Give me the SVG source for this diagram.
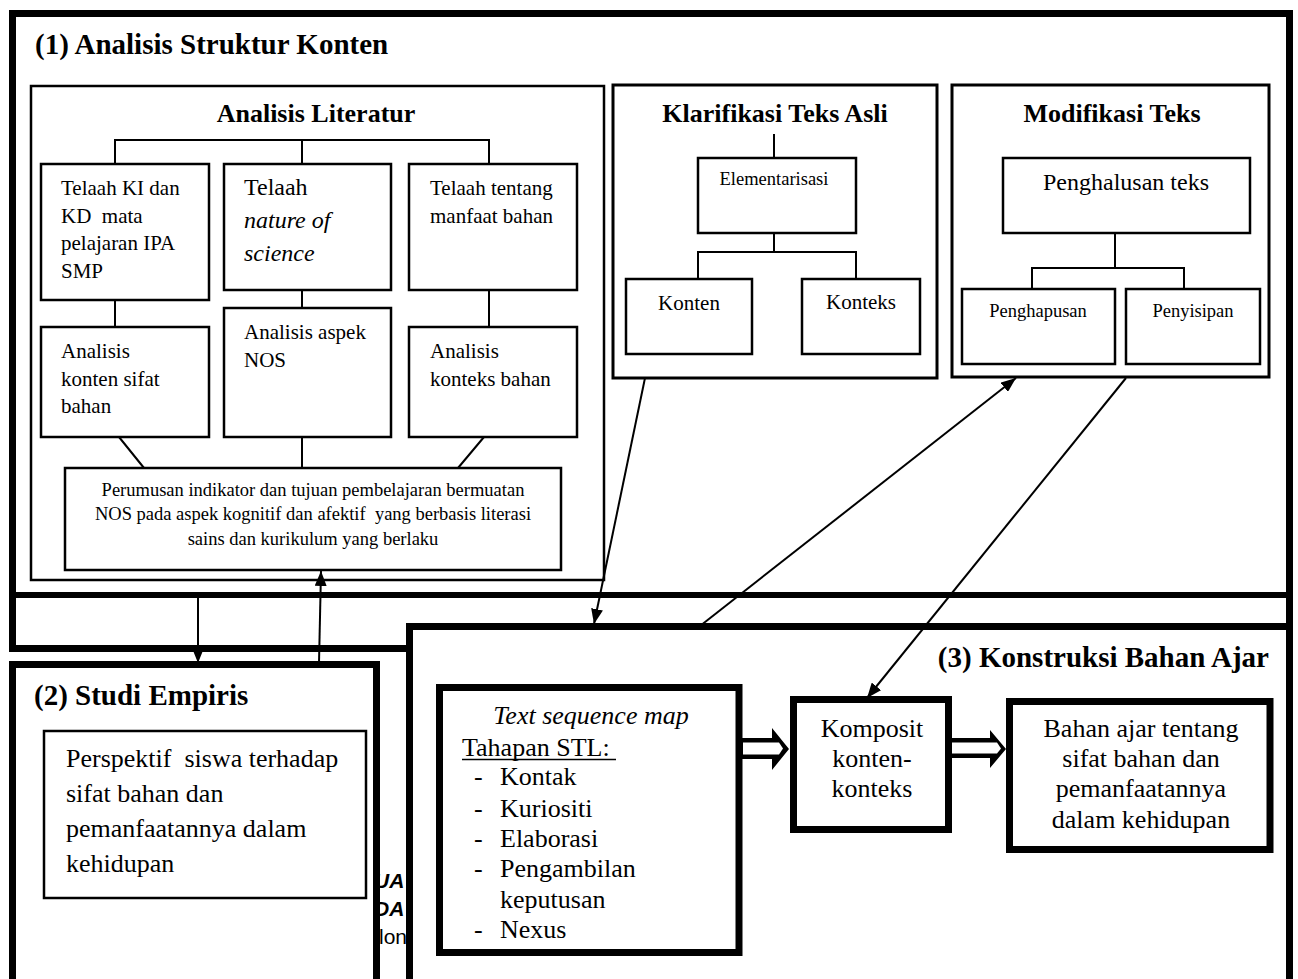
<svg xmlns="http://www.w3.org/2000/svg" width="1298" height="979" viewBox="0 0 1298 979">
<defs>
<marker id="ah" markerUnits="userSpaceOnUse" markerWidth="15" markerHeight="12" refX="15" refY="6" orient="auto"><path d="M0,0 L15,6 L0,12 z" fill="#000"/></marker>
</defs>
<style>
text{font-family:"Liberation Serif","Times New Roman",serif;fill:#000}
.h{font-weight:bold;font-size:29px}
.s{font-weight:bold;font-size:26px}
.f18{font-size:18.5px}
.f21{font-size:21px}
.f24{font-size:24px}
.f26{font-size:26px}
.i{font-style:italic}
.c{text-anchor:middle}
.pre{white-space:pre}
.b{fill:#fff;stroke:#000;stroke-width:2.5}
.m{fill:#fff;stroke:#000;stroke-width:3}
.k{fill:#fff;stroke:#000;stroke-width:7}
.ln{stroke:#000;stroke-width:2;fill:none}
.ar{stroke:#000;stroke-width:2;fill:none;marker-end:url(#ah)}
.blk{fill:#000}
.wht{fill:#fff}
.frag{font-family:"Liberation Sans",Arial,sans-serif;font-size:21px}
</style>
<rect width="1298" height="979" fill="#fff"/>

<g id="box1">
<rect class="k" x="12.5" y="13.5" width="1277" height="635"/>
<line x1="12.5" y1="595" x2="1289.5" y2="595" stroke="#000" stroke-width="6"/>
<text class="h" x="35" y="54">(1) Analisis Struktur Konten</text>
</g>

<g id="analisis-literatur">
<rect class="b" x="31" y="86" width="573" height="494"/>
<text class="s c" x="316" y="122">Analisis Literatur</text>
</g>
<g id="telaah-ki-kd">
<rect class="b" x="41" y="164" width="168" height="136"/>
<text class="f21 pre" x="61" y="195">Telaah KI dan</text>
<text class="f21 pre" x="61" y="223">KD  mata</text>
<text class="f21" x="61" y="250">pelajaran IPA</text>
<text class="f21" x="61" y="278">SMP</text>
</g>
<g id="telaah-nos">
<rect class="b" x="224" y="164" width="167" height="126"/>
<text class="f24" x="244" y="195">Telaah</text>
<text class="f24 i" x="244" y="228">nature of</text>
<text class="f24 i" x="244" y="261">science</text>
</g>
<g id="telaah-manfaat">
<rect class="b" x="409" y="164" width="168" height="126"/>
<text class="f21" x="430" y="195">Telaah tentang</text>
<text class="f21" x="430" y="223">manfaat bahan</text>
</g>
<g id="analisis-konten">
<rect class="b" x="41" y="327" width="168" height="110"/>
<text class="f21" x="61" y="358">Analisis</text>
<text class="f21" x="61" y="386">konten sifat</text>
<text class="f21" x="61" y="413">bahan</text>
</g>
<g id="analisis-nos">
<rect class="b" x="224" y="308" width="167" height="129"/>
<text class="f21" x="244" y="339">Analisis aspek</text>
<text class="f21" x="244" y="367">NOS</text>
</g>
<g id="analisis-konteks">
<rect class="b" x="409" y="327" width="168" height="110"/>
<text class="f21" x="430" y="358">Analisis</text>
<text class="f21" x="430" y="386">konteks bahan</text>
</g>
<g id="perumusan">
<rect class="b" x="65" y="468" width="496" height="102"/>
<text class="f18 c" x="313" y="496">Perumusan indikator dan tujuan pembelajaran bermuatan</text>
<text class="f18 c pre" x="313" y="520">NOS pada aspek kognitif dan afektif  yang berbasis literasi</text>
<text class="f18 c" x="313" y="545">sains dan kurikulum yang berlaku</text>
</g>

<g id="klarifikasi">
<rect class="m" x="613" y="85" width="324" height="293"/>
<text class="s c" x="775" y="122">Klarifikasi Teks Asli</text>
</g>
<g id="elementarisasi">
<rect class="b" x="698" y="158" width="158" height="75"/>
<text class="f18 c" x="774" y="185">Elementarisasi</text>
</g>
<g id="konten">
<rect class="b" x="626" y="279" width="126" height="75"/>
<text class="f21 c" x="689" y="310">Konten</text>
</g>
<g id="konteks">
<rect class="b" x="802" y="279" width="118" height="75"/>
<text class="f21 c" x="861" y="309">Konteks</text>
</g>

<g id="modifikasi">
<rect class="m" x="952" y="85" width="317" height="292"/>
<text class="s c" x="1112" y="122">Modifikasi Teks</text>
</g>
<g id="penghalusan">
<rect class="b" x="1003" y="158" width="247" height="75"/>
<text class="f24 c" x="1126" y="190">Penghalusan teks</text>
</g>
<g id="penghapusan">
<rect class="b" x="962" y="289" width="153" height="75"/>
<text class="f18 c" x="1038" y="317">Penghapusan</text>
</g>
<g id="penyisipan">
<rect class="b" x="1126" y="289" width="134" height="75"/>
<text class="f18 c" x="1193" y="317">Penyisipan</text>
</g>

<g id="hidden-fragments">
<text class="frag" x="374" y="888" font-weight="bold" font-style="italic">UA</text>
<text class="frag" x="374" y="916" font-weight="bold" font-style="italic">DA</text>
<text class="frag" x="379" y="944">lon</text>
</g>

<g id="box2">
<rect class="k" x="12.5" y="664.5" width="364" height="340"/>
<text class="h" x="34" y="705">(2) Studi Empiris</text>
</g>
<g id="perspektif">
<rect class="b" x="44" y="731" width="322" height="167"/>
<text class="f26 pre" x="66" y="767">Perspektif  siswa terhadap</text>
<text class="f26" x="66" y="802">sifat bahan dan</text>
<text class="f26" x="66" y="837">pemanfaatannya dalam</text>
<text class="f26" x="66" y="872">kehidupan</text>
</g>

<g id="box3">
<rect class="k" x="409.5" y="626.5" width="880" height="380"/>
<text class="h" x="1269" y="667" text-anchor="end">(3) Konstruksi Bahan Ajar</text>
</g>
<g id="text-sequence-map">
<rect class="k" x="439.5" y="687.5" width="299.5" height="265"/>
<text class="f26 i c" x="591" y="724">Text sequence map</text>
<text class="f26" x="462" y="756">Tahapan STL:</text>
<line x1="462" y1="759.5" x2="616" y2="759.5" stroke="#000" stroke-width="1.5"/>
<text class="f26" x="474" y="785">-</text><text class="f26" x="500" y="785">Kontak</text>
<text class="f26" x="474" y="817">-</text><text class="f26" x="500" y="817">Kuriositi</text>
<text class="f26" x="474" y="847">-</text><text class="f26" x="500" y="847">Elaborasi</text>
<text class="f26" x="474" y="877">-</text><text class="f26" x="500" y="877">Pengambilan</text>
<text class="f26" x="500" y="908">keputusan</text>
<text class="f26" x="474" y="938">-</text><text class="f26" x="500" y="938">Nexus</text>
</g>
<g id="komposit">
<rect class="k" x="793.5" y="699.5" width="155" height="130"/>
<text class="f26 c" x="872" y="737">Komposit</text>
<text class="f26 c" x="872" y="767">konten-</text>
<text class="f26 c" x="872" y="797">konteks</text>
</g>
<g id="bahan-ajar">
<rect class="k" x="1009.5" y="701.5" width="260.5" height="148"/>
<text class="f26 c" x="1141" y="737">Bahan ajar tentang</text>
<text class="f26 c" x="1141" y="767">sifat bahan dan</text>
<text class="f26 c" x="1141" y="797">pemanfaatannya</text>
<text class="f26 c" x="1141" y="828">dalam kehidupan</text>
</g>

<g id="connectors">
<path class="ln" d="M115,164 V140 H489 V164 M302,140 V164"/>
<path class="ln" d="M115,300 V327 M302,290 V308 M489,290 V327"/>
<path class="ln" d="M119,437 L144,468 M302,437 V468 M484,437 L458,468"/>
<path class="ln" d="M774,134 V158 M774,233 V252 M698,279 V252 H856 V279"/>
<path class="ln" d="M1115,233 V268 M1032,289 V268 H1184 V289"/>
<line class="ar" x1="198" y1="598" x2="198" y2="663"/>
<line class="ar" x1="319" y1="663" x2="321" y2="571"/>
<line class="ar" x1="645" y1="378" x2="594" y2="624"/>
<line class="ar" x1="700" y1="626" x2="1016" y2="378"/>
<line class="ar" x1="1126" y1="378" x2="867" y2="698"/>
<polygon class="blk" points="742,738 772,738 772,728 789,749 772,770 772,759 742,759"/>
<polygon class="wht" points="743,742.5 779,742.5 783,748.5 779,754.5 743,754.5"/>
<polygon class="blk" points="951,738 990,738 990,730 1006,749 990,768 990,758 951,758"/>
<polygon class="wht" points="952,742.5 997,742.5 1001,748.5 997,753.5 952,753.5"/>
</g>
</svg>
